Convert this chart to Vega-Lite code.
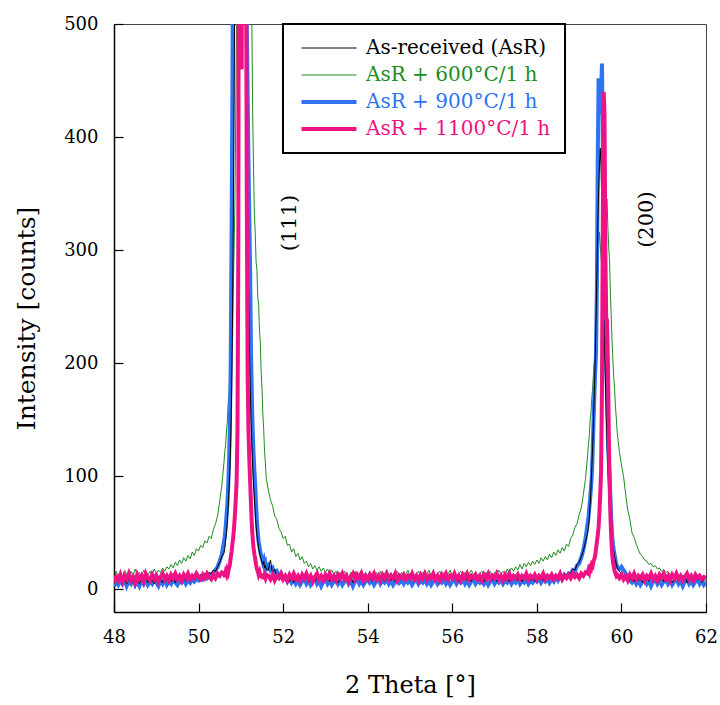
{
"$schema": "https://vega.github.io/schema/vega-lite/v6.json",
"width": 592, "height": 588,
"autosize": {"type": "none"},
"padding": {"left": 114, "top": 24, "right": 14, "bottom": 93},
"background": "white",
"config": {
  "font": "DejaVu Serif",
  "view": {"stroke": "#444", "strokeWidth": 1},
  "axis": {"labelFont": "DejaVu Serif", "titleFont": "DejaVu Serif", "labelColor": "black", "titleColor": "black", "titleFontWeight": "normal", "grid": false, "tickColor": "black", "domainColor": "black", "domainWidth": 1.5, "tickWidth": 1.2, "labelFontSize": 18}
},
"data": {"values": [
{"x":48.00,"a":5,"g":9,"b":3,"p":6},
{"x":48.05,"a":9,"g":16,"b":7,"p":11},
{"x":48.10,"a":6,"g":12,"b":4,"p":8},
{"x":48.15,"a":11,"g":15,"b":8,"p":13},
{"x":48.20,"a":7,"g":11,"b":5,"p":7},
{"x":48.25,"a":10,"g":17,"b":9,"p":12},
{"x":48.30,"a":5,"g":13,"b":3,"p":9},
{"x":48.35,"a":9,"g":10,"b":7,"p":14},
{"x":48.40,"a":12,"g":16,"b":5,"p":8},
{"x":48.45,"a":6,"g":12,"b":10,"p":11},
{"x":48.50,"a":8,"g":18,"b":4,"p":6},
{"x":48.55,"a":11,"g":13,"b":7,"p":13},
{"x":48.60,"a":5,"g":15,"b":3,"p":9},
{"x":48.65,"a":9,"g":11,"b":8,"p":12},
{"x":48.70,"a":7,"g":17,"b":5,"p":7},
{"x":48.75,"a":12,"g":14,"b":9,"p":14},
{"x":48.80,"a":6,"g":12,"b":4,"p":10},
{"x":48.85,"a":10,"g":16,"b":7,"p":8},
{"x":48.90,"a":8,"g":13,"b":5,"p":13},
{"x":48.95,"a":5,"g":18,"b":10,"p":9},
{"x":49.00,"a":11,"g":14,"b":6,"p":12},
{"x":49.05,"a":7,"g":17,"b":3,"p":7},
{"x":49.10,"a":9,"g":15,"b":8,"p":11},
{"x":49.15,"a":6,"g":19,"b":5,"p":14},
{"x":49.20,"a":12,"g":16,"b":9,"p":9},
{"x":49.25,"a":8,"g":20,"b":4,"p":12},
{"x":49.30,"a":10,"g":18,"b":7,"p":8},
{"x":49.35,"a":7,"g":22,"b":5,"p":13},
{"x":49.40,"a":11,"g":19,"b":10,"p":10},
{"x":49.45,"a":6,"g":24,"b":6,"p":14},
{"x":49.50,"a":9,"g":21,"b":4,"p":9},
{"x":49.55,"a":12,"g":26,"b":8,"p":12},
{"x":49.60,"a":8,"g":23,"b":6,"p":8},
{"x":49.65,"a":10,"g":28,"b":9,"p":13},
{"x":49.70,"a":7,"g":25,"b":5,"p":10},
{"x":49.75,"a":13,"g":30,"b":8,"p":14},
{"x":49.80,"a":9,"g":27,"b":6,"p":9},
{"x":49.85,"a":11,"g":33,"b":10,"p":12},
{"x":49.90,"a":8,"g":30,"b":7,"p":10},
{"x":49.95,"a":12,"g":36,"b":9,"p":14},
{"x":50.00,"a":10,"g":34,"b":8,"p":11},
{"x":50.05,"a":13,"g":39,"b":11,"p":9},
{"x":50.10,"a":11,"g":37,"b":9,"p":13},
{"x":50.15,"a":14,"g":43,"b":12,"p":10},
{"x":50.20,"a":12,"g":41,"b":10,"p":14},
{"x":50.25,"a":15,"g":47,"b":13,"p":11},
{"x":50.30,"a":14,"g":45,"b":12,"p":9},
{"x":50.35,"a":17,"g":53,"b":15,"p":13},
{"x":50.40,"a":16,"g":58,"b":17,"p":10},
{"x":50.45,"a":20,"g":65,"b":20,"p":14},
{"x":50.50,"a":24,"g":78,"b":25,"p":12},
{"x":50.55,"a":29,"g":92,"b":31,"p":15},
{"x":50.60,"a":32,"g":112,"b":42,"p":14},
{"x":50.62,"a":36,"g":122,"b":47,"p":11},
{"x":50.64,"a":44,"g":128,"b":55,"p":15},
{"x":50.66,"a":50,"g":140,"b":65,"p":13},
{"x":50.68,"a":60,"g":148,"b":75,"p":17},
{"x":50.70,"a":72,"g":165,"b":90,"p":15},
{"x":50.72,"a":88,"g":172,"b":112,"p":19},
{"x":50.74,"a":105,"g":192,"b":145,"p":22},
{"x":50.76,"a":130,"g":198,"b":200,"p":28},
{"x":50.78,"a":170,"g":250,"b":310,"p":33},
{"x":50.80,"a":230,"g":212,"b":440,"p":40},
{"x":50.82,"a":320,"g":262,"b":620,"p":46},
{"x":50.84,"a":430,"g":300,"b":900,"p":55},
{"x":50.86,"a":560,"g":345,"b":1200,"p":66},
{"x":50.88,"a":800,"g":420,"b":1400,"p":80},
{"x":50.90,"a":1100,"g":520,"b":1500,"p":95},
{"x":50.92,"a":1400,"g":620,"b":1600,"p":140},
{"x":50.94,"a":1500,"g":700,"b":1600,"p":300},
{"x":50.96,"a":1500,"g":760,"b":1500,"p":900},
{"x":50.98,"a":1400,"g":800,"b":1400,"p":700},
{"x":51.00,"a":1250,"g":820,"b":1300,"p":470},
{"x":51.02,"a":1100,"g":800,"b":1200,"p":460},
{"x":51.04,"a":950,"g":780,"b":1100,"p":1000},
{"x":51.06,"a":820,"g":760,"b":1000,"p":1300},
{"x":51.08,"a":700,"g":740,"b":900,"p":1200},
{"x":51.10,"a":600,"g":720,"b":760,"p":900},
{"x":51.12,"a":500,"g":700,"b":600,"p":600},
{"x":51.14,"a":410,"g":680,"b":500,"p":350},
{"x":51.16,"a":330,"g":660,"b":440,"p":190},
{"x":51.18,"a":270,"g":640,"b":380,"p":140},
{"x":51.20,"a":220,"g":610,"b":330,"p":115},
{"x":51.22,"a":180,"g":580,"b":280,"p":95},
{"x":51.24,"a":150,"g":540,"b":210,"p":75},
{"x":51.26,"a":128,"g":500,"b":170,"p":57},
{"x":51.28,"a":108,"g":420,"b":140,"p":45},
{"x":51.30,"a":92,"g":372,"b":120,"p":37},
{"x":51.32,"a":80,"g":332,"b":105,"p":31},
{"x":51.34,"a":68,"g":315,"b":92,"p":27},
{"x":51.36,"a":56,"g":290,"b":75,"p":22},
{"x":51.38,"a":48,"g":282,"b":60,"p":18},
{"x":51.40,"a":42,"g":258,"b":50,"p":16},
{"x":51.42,"a":36,"g":252,"b":42,"p":13},
{"x":51.44,"a":33,"g":230,"b":38,"p":15},
{"x":51.46,"a":29,"g":218,"b":33,"p":11},
{"x":51.48,"a":27,"g":192,"b":30,"p":14},
{"x":51.50,"a":24,"g":178,"b":27,"p":10},
{"x":51.52,"a":22,"g":155,"b":24,"p":13},
{"x":51.54,"a":25,"g":142,"b":26,"p":9},
{"x":51.56,"a":19,"g":122,"b":21,"p":12},
{"x":51.58,"a":21,"g":112,"b":23,"p":10},
{"x":51.60,"a":18,"g":98,"b":18,"p":13},
{"x":51.65,"a":17,"g":88,"b":21,"p":12},
{"x":51.70,"a":26,"g":79,"b":17,"p":9},
{"x":51.75,"a":14,"g":74,"b":19,"p":13},
{"x":51.80,"a":18,"g":65,"b":14,"p":8},
{"x":51.85,"a":11,"g":62,"b":16,"p":12},
{"x":51.90,"a":13,"g":54,"b":12,"p":10},
{"x":51.95,"a":9,"g":51,"b":14,"p":14},
{"x":52.00,"a":12,"g":45,"b":9,"p":9},
{"x":52.05,"a":8,"g":47,"b":11,"p":12},
{"x":52.10,"a":11,"g":39,"b":7,"p":8},
{"x":52.15,"a":7,"g":40,"b":10,"p":13},
{"x":52.20,"a":10,"g":33,"b":6,"p":10},
{"x":52.25,"a":6,"g":36,"b":9,"p":14},
{"x":52.30,"a":9,"g":29,"b":5,"p":9},
{"x":52.35,"a":12,"g":32,"b":8,"p":12},
{"x":52.40,"a":7,"g":26,"b":4,"p":8},
{"x":52.45,"a":10,"g":29,"b":7,"p":13},
{"x":52.50,"a":8,"g":23,"b":10,"p":10},
{"x":52.55,"a":11,"g":25,"b":5,"p":14},
{"x":52.60,"a":6,"g":20,"b":8,"p":9},
{"x":52.65,"a":9,"g":23,"b":4,"p":12},
{"x":52.70,"a":12,"g":18,"b":7,"p":7},
{"x":52.75,"a":7,"g":21,"b":9,"p":11},
{"x":52.80,"a":10,"g":17,"b":5,"p":14},
{"x":52.85,"a":8,"g":20,"b":8,"p":9},
{"x":52.90,"a":11,"g":16,"b":3,"p":12},
{"x":52.95,"a":6,"g":19,"b":7,"p":8},
{"x":53.00,"a":9,"g":15,"b":9,"p":13},
{"x":53.05,"a":12,"g":18,"b":5,"p":10},
{"x":53.10,"a":7,"g":14,"b":8,"p":14},
{"x":53.15,"a":10,"g":17,"b":4,"p":9},
{"x":53.20,"a":8,"g":13,"b":7,"p":12},
{"x":53.25,"a":11,"g":16,"b":10,"p":8},
{"x":53.30,"a":6,"g":12,"b":5,"p":13},
{"x":53.35,"a":9,"g":15,"b":8,"p":10},
{"x":53.40,"a":12,"g":11,"b":4,"p":14},
{"x":53.45,"a":7,"g":16,"b":7,"p":9},
{"x":53.50,"a":10,"g":13,"b":9,"p":12},
{"x":53.55,"a":8,"g":10,"b":5,"p":7},
{"x":53.60,"a":11,"g":15,"b":8,"p":11},
{"x":53.65,"a":6,"g":12,"b":3,"p":14},
{"x":53.70,"a":9,"g":16,"b":7,"p":9},
{"x":53.75,"a":13,"g":11,"b":9,"p":13},
{"x":53.80,"a":8,"g":14,"b":5,"p":10},
{"x":53.85,"a":10,"g":17,"b":8,"p":14},
{"x":53.90,"a":7,"g":12,"b":4,"p":8},
{"x":53.95,"a":11,"g":15,"b":7,"p":12},
{"x":54.00,"a":9,"g":11,"b":10,"p":9},
{"x":54.05,"a":12,"g":16,"b":6,"p":13},
{"x":54.10,"a":7,"g":13,"b":8,"p":10},
{"x":54.15,"a":10,"g":10,"b":4,"p":14},
{"x":54.20,"a":8,"g":15,"b":7,"p":9},
{"x":54.25,"a":13,"g":12,"b":9,"p":12},
{"x":54.30,"a":9,"g":16,"b":5,"p":8},
{"x":54.35,"a":11,"g":11,"b":8,"p":13},
{"x":54.40,"a":7,"g":14,"b":6,"p":10},
{"x":54.45,"a":10,"g":17,"b":9,"p":14},
{"x":54.50,"a":12,"g":12,"b":5,"p":9},
{"x":54.55,"a":8,"g":15,"b":8,"p":12},
{"x":54.60,"a":11,"g":11,"b":4,"p":10},
{"x":54.65,"a":7,"g":14,"b":7,"p":14},
{"x":54.70,"a":10,"g":16,"b":10,"p":8},
{"x":54.75,"a":13,"g":12,"b":6,"p":12},
{"x":54.80,"a":9,"g":15,"b":8,"p":10},
{"x":54.85,"a":11,"g":11,"b":5,"p":13},
{"x":54.90,"a":8,"g":14,"b":9,"p":9},
{"x":54.95,"a":12,"g":17,"b":6,"p":12},
{"x":55.00,"a":10,"g":12,"b":8,"p":10},
{"x":55.05,"a":13,"g":15,"b":4,"p":14},
{"x":55.10,"a":9,"g":11,"b":7,"p":9},
{"x":55.15,"a":11,"g":14,"b":9,"p":12},
{"x":55.20,"a":8,"g":16,"b":5,"p":8},
{"x":55.25,"a":12,"g":12,"b":8,"p":13},
{"x":55.30,"a":10,"g":15,"b":6,"p":10},
{"x":55.35,"a":14,"g":11,"b":9,"p":14},
{"x":55.40,"a":9,"g":14,"b":5,"p":9},
{"x":55.45,"a":11,"g":17,"b":8,"p":12},
{"x":55.50,"a":8,"g":12,"b":4,"p":10},
{"x":55.55,"a":12,"g":15,"b":7,"p":14},
{"x":55.60,"a":10,"g":11,"b":9,"p":9},
{"x":55.65,"a":13,"g":14,"b":5,"p":12},
{"x":55.70,"a":9,"g":16,"b":8,"p":8},
{"x":55.75,"a":11,"g":12,"b":6,"p":13},
{"x":55.80,"a":8,"g":15,"b":9,"p":10},
{"x":55.85,"a":12,"g":11,"b":5,"p":14},
{"x":55.90,"a":9,"g":14,"b":8,"p":9},
{"x":55.95,"a":11,"g":17,"b":4,"p":12},
{"x":56.00,"a":8,"g":12,"b":7,"p":10},
{"x":56.05,"a":12,"g":15,"b":9,"p":14},
{"x":56.10,"a":10,"g":11,"b":5,"p":9},
{"x":56.15,"a":7,"g":14,"b":8,"p":12},
{"x":56.20,"a":11,"g":16,"b":6,"p":8},
{"x":56.25,"a":9,"g":12,"b":9,"p":13},
{"x":56.30,"a":12,"g":15,"b":5,"p":10},
{"x":56.35,"a":8,"g":11,"b":8,"p":14},
{"x":56.40,"a":10,"g":14,"b":4,"p":9},
{"x":56.45,"a":7,"g":17,"b":7,"p":12},
{"x":56.50,"a":11,"g":13,"b":9,"p":10},
{"x":56.55,"a":9,"g":15,"b":5,"p":13},
{"x":56.60,"a":12,"g":11,"b":8,"p":9},
{"x":56.65,"a":8,"g":14,"b":6,"p":12},
{"x":56.70,"a":10,"g":16,"b":9,"p":8},
{"x":56.75,"a":7,"g":12,"b":5,"p":13},
{"x":56.80,"a":11,"g":15,"b":8,"p":10},
{"x":56.85,"a":9,"g":13,"b":4,"p":14},
{"x":56.90,"a":12,"g":16,"b":7,"p":9},
{"x":56.95,"a":8,"g":12,"b":9,"p":12},
{"x":57.00,"a":10,"g":15,"b":5,"p":10},
{"x":57.05,"a":7,"g":13,"b":8,"p":14},
{"x":57.10,"a":11,"g":17,"b":6,"p":9},
{"x":57.15,"a":9,"g":14,"b":9,"p":12},
{"x":57.20,"a":12,"g":16,"b":5,"p":8},
{"x":57.25,"a":8,"g":13,"b":8,"p":13},
{"x":57.30,"a":10,"g":18,"b":6,"p":10},
{"x":57.35,"a":7,"g":15,"b":9,"p":14},
{"x":57.40,"a":11,"g":19,"b":5,"p":9},
{"x":57.45,"a":9,"g":16,"b":8,"p":12},
{"x":57.50,"a":12,"g":20,"b":6,"p":10},
{"x":57.55,"a":8,"g":17,"b":9,"p":13},
{"x":57.60,"a":10,"g":22,"b":5,"p":9},
{"x":57.65,"a":7,"g":18,"b":8,"p":12},
{"x":57.70,"a":11,"g":23,"b":6,"p":10},
{"x":57.75,"a":9,"g":20,"b":9,"p":14},
{"x":57.80,"a":12,"g":24,"b":5,"p":9},
{"x":57.85,"a":8,"g":21,"b":8,"p":12},
{"x":57.90,"a":10,"g":25,"b":6,"p":10},
{"x":57.95,"a":7,"g":22,"b":9,"p":13},
{"x":58.00,"a":11,"g":26,"b":7,"p":9},
{"x":58.05,"a":9,"g":23,"b":10,"p":12},
{"x":58.10,"a":12,"g":28,"b":6,"p":10},
{"x":58.15,"a":8,"g":25,"b":9,"p":14},
{"x":58.20,"a":10,"g":29,"b":7,"p":9},
{"x":58.25,"a":13,"g":26,"b":10,"p":12},
{"x":58.30,"a":9,"g":31,"b":6,"p":10},
{"x":58.35,"a":11,"g":28,"b":9,"p":13},
{"x":58.40,"a":8,"g":33,"b":7,"p":9},
{"x":58.45,"a":12,"g":30,"b":11,"p":12},
{"x":58.50,"a":10,"g":35,"b":8,"p":10},
{"x":58.55,"a":13,"g":32,"b":12,"p":14},
{"x":58.60,"a":11,"g":37,"b":9,"p":9},
{"x":58.65,"a":14,"g":34,"b":13,"p":12},
{"x":58.70,"a":12,"g":40,"b":11,"p":10},
{"x":58.75,"a":15,"g":38,"b":14,"p":13},
{"x":58.80,"a":14,"g":45,"b":13,"p":10},
{"x":58.85,"a":18,"g":48,"b":17,"p":14},
{"x":58.90,"a":17,"g":55,"b":16,"p":11},
{"x":58.95,"a":22,"g":58,"b":21,"p":13},
{"x":59.00,"a":24,"g":66,"b":23,"p":10},
{"x":59.05,"a":29,"g":72,"b":28,"p":14},
{"x":59.10,"a":34,"g":84,"b":35,"p":12},
{"x":59.15,"a":42,"g":98,"b":45,"p":15},
{"x":59.20,"a":50,"g":118,"b":58,"p":14},
{"x":59.22,"a":55,"g":128,"b":64,"p":17},
{"x":59.24,"a":63,"g":136,"b":72,"p":15},
{"x":59.26,"a":75,"g":150,"b":80,"p":19},
{"x":59.28,"a":90,"g":156,"b":90,"p":18},
{"x":59.30,"a":108,"g":170,"b":100,"p":22},
{"x":59.32,"a":128,"g":178,"b":122,"p":21},
{"x":59.34,"a":150,"g":192,"b":148,"p":25},
{"x":59.36,"a":175,"g":200,"b":172,"p":27},
{"x":59.38,"a":205,"g":224,"b":192,"p":30},
{"x":59.40,"a":240,"g":243,"b":210,"p":36},
{"x":59.42,"a":280,"g":265,"b":270,"p":42},
{"x":59.44,"a":320,"g":283,"b":380,"p":48},
{"x":59.46,"a":350,"g":302,"b":452,"p":55},
{"x":59.48,"a":375,"g":316,"b":445,"p":68},
{"x":59.50,"a":390,"g":305,"b":420,"p":85},
{"x":59.52,"a":370,"g":292,"b":440,"p":105},
{"x":59.54,"a":330,"g":288,"b":465,"p":180},
{"x":59.56,"a":290,"g":298,"b":390,"p":330},
{"x":59.58,"a":250,"g":315,"b":330,"p":440},
{"x":59.60,"a":215,"g":328,"b":295,"p":420},
{"x":59.62,"a":185,"g":338,"b":255,"p":300},
{"x":59.64,"a":155,"g":343,"b":205,"p":240},
{"x":59.66,"a":128,"g":345,"b":170,"p":238},
{"x":59.68,"a":105,"g":320,"b":135,"p":200},
{"x":59.70,"a":88,"g":302,"b":115,"p":140},
{"x":59.72,"a":74,"g":290,"b":100,"p":95},
{"x":59.74,"a":62,"g":262,"b":80,"p":65},
{"x":59.76,"a":52,"g":240,"b":62,"p":45},
{"x":59.78,"a":44,"g":218,"b":48,"p":32},
{"x":59.80,"a":38,"g":201,"b":40,"p":24},
{"x":59.82,"a":33,"g":187,"b":34,"p":20},
{"x":59.84,"a":28,"g":176,"b":30,"p":16},
{"x":59.86,"a":25,"g":161,"b":26,"p":14},
{"x":59.88,"a":22,"g":151,"b":22,"p":12},
{"x":59.90,"a":19,"g":139,"b":20,"p":13},
{"x":59.95,"a":16,"g":122,"b":18,"p":10},
{"x":60.00,"a":14,"g":110,"b":20,"p":13},
{"x":60.05,"a":12,"g":100,"b":17,"p":9},
{"x":60.10,"a":10,"g":84,"b":14,"p":12},
{"x":60.15,"a":11,"g":70,"b":10,"p":8},
{"x":60.20,"a":8,"g":62,"b":8,"p":13},
{"x":60.25,"a":12,"g":50,"b":6,"p":10},
{"x":60.30,"a":7,"g":46,"b":9,"p":14},
{"x":60.35,"a":10,"g":40,"b":5,"p":9},
{"x":60.40,"a":8,"g":35,"b":8,"p":12},
{"x":60.45,"a":11,"g":31,"b":4,"p":10},
{"x":60.50,"a":6,"g":29,"b":7,"p":13},
{"x":60.55,"a":9,"g":26,"b":9,"p":8},
{"x":60.60,"a":12,"g":25,"b":5,"p":12},
{"x":60.65,"a":7,"g":22,"b":8,"p":10},
{"x":60.70,"a":10,"g":23,"b":3,"p":14},
{"x":60.75,"a":8,"g":20,"b":7,"p":9},
{"x":60.80,"a":11,"g":21,"b":9,"p":12},
{"x":60.85,"a":6,"g":18,"b":5,"p":8},
{"x":60.90,"a":9,"g":19,"b":8,"p":13},
{"x":60.95,"a":12,"g":16,"b":4,"p":10},
{"x":61.00,"a":7,"g":17,"b":7,"p":14},
{"x":61.05,"a":10,"g":15,"b":9,"p":9},
{"x":61.10,"a":8,"g":16,"b":5,"p":12},
{"x":61.15,"a":11,"g":13,"b":8,"p":8},
{"x":61.20,"a":6,"g":15,"b":4,"p":13},
{"x":61.25,"a":9,"g":12,"b":7,"p":10},
{"x":61.30,"a":12,"g":14,"b":9,"p":14},
{"x":61.35,"a":7,"g":11,"b":5,"p":9},
{"x":61.40,"a":10,"g":14,"b":8,"p":12},
{"x":61.45,"a":8,"g":12,"b":3,"p":8},
{"x":61.50,"a":11,"g":13,"b":7,"p":11},
{"x":61.55,"a":6,"g":10,"b":9,"p":14},
{"x":61.60,"a":9,"g":13,"b":5,"p":9},
{"x":61.65,"a":12,"g":11,"b":8,"p":12},
{"x":61.70,"a":7,"g":12,"b":4,"p":8},
{"x":61.75,"a":10,"g":9,"b":7,"p":13},
{"x":61.80,"a":8,"g":12,"b":9,"p":10},
{"x":61.85,"a":11,"g":10,"b":5,"p":12},
{"x":61.90,"a":6,"g":11,"b":8,"p":9},
{"x":61.95,"a":9,"g":9,"b":4,"p":11},
{"x":62.00,"a":7,"g":10,"b":6,"p":10}
]},
"layer": [
  {
    "transform": [{"fold": ["g", "b", "a", "p"], "as": ["s", "y"]}],
    "encoding": {
      "x": {"field": "x", "type": "quantitative", "scale": {"domain": [48, 62], "nice": false, "zero": false},
            "axis": {"values": [48, 50, 52, 54, 56, 58, 60, 62], "tickSize": -9, "labelPadding": 25, "title": "2 Theta [°]", "titleFontSize": 24, "titlePadding": 27, "labelFlush": false}},
      "y": {"field": "y", "type": "quantitative", "scale": {"domain": [-20, 500], "nice": false, "zero": false},
            "axis": {"values": [0, 100, 200, 300, 400, 500], "tickSize": -9, "labelPadding": 25, "title": "Intensity [counts]", "titleFontSize": 25, "titlePadding": 24}},
      "color": {"field": "s", "type": "nominal",
                "scale": {"domain": ["a", "g", "b", "p"], "range": ["#000000", "#1f8c1f", "#2e73f2", "#ee1285"]},
                "legend": {"title": null, "orient": "none", "legendX": 169, "legendY": 0,
                           "symbolType": "M-5,0H5", "symbolSize": 121, "symbolOffset": 22,
                           "labelFontSize": 20, "labelFont": "DejaVu Serif", "labelOffset": 27, "labelLimit": 400, "rowPadding": 7, "padding": 14,
                           "strokeColor": "black", "fillColor": "white",
                           "labelExpr": "{'a': 'As-received (AsR)', 'g': 'AsR + 600°C/1 h', 'b': 'AsR + 900°C/1 h', 'p': 'AsR + 1100°C/1 h'}[datum.label]",
                           "encode": {
                             "labels": {"update": {"fill": {"scale": "color", "field": "value"}}},
                             "symbols": {"update": {"strokeWidth": {"signal": "datum.value === 'b' || datum.value === 'p' ? 4 : 1"}}},
                             "legend": {"update": {"strokeWidth": {"value": 2}}}}}}
    },
    "layer": [
      {"transform": [{"filter": "datum.s === 'g'"}], "mark": {"type": "line", "clip": true, "strokeWidth": 1}},
      {"transform": [{"filter": "datum.s === 'b'"}], "mark": {"type": "line", "clip": true, "strokeWidth": 4}},
      {"transform": [{"filter": "datum.s === 'a'"}], "mark": {"type": "line", "clip": true, "strokeWidth": 1}},
      {"transform": [{"filter": "datum.s === 'p'"}], "mark": {"type": "line", "clip": true, "strokeWidth": 4}}
    ]
  },
  {
    "data": {"values": [{"t": "(111)"}]},
    "mark": {"type": "text", "text": "(111)", "angle": 270, "fontSize": 21, "font": "DejaVu Serif", "color": "black", "align": "center", "baseline": "middle"},
    "encoding": {"x": {"datum": 52.16}, "y": {"datum": 324}}
  },
  {
    "data": {"values": [{"t": "(200)"}]},
    "mark": {"type": "text", "text": "(200)", "angle": 270, "fontSize": 21, "font": "DejaVu Serif", "color": "black", "align": "center", "baseline": "middle"},
    "encoding": {"x": {"datum": 60.6}, "y": {"datum": 327}}
  }
]
}
